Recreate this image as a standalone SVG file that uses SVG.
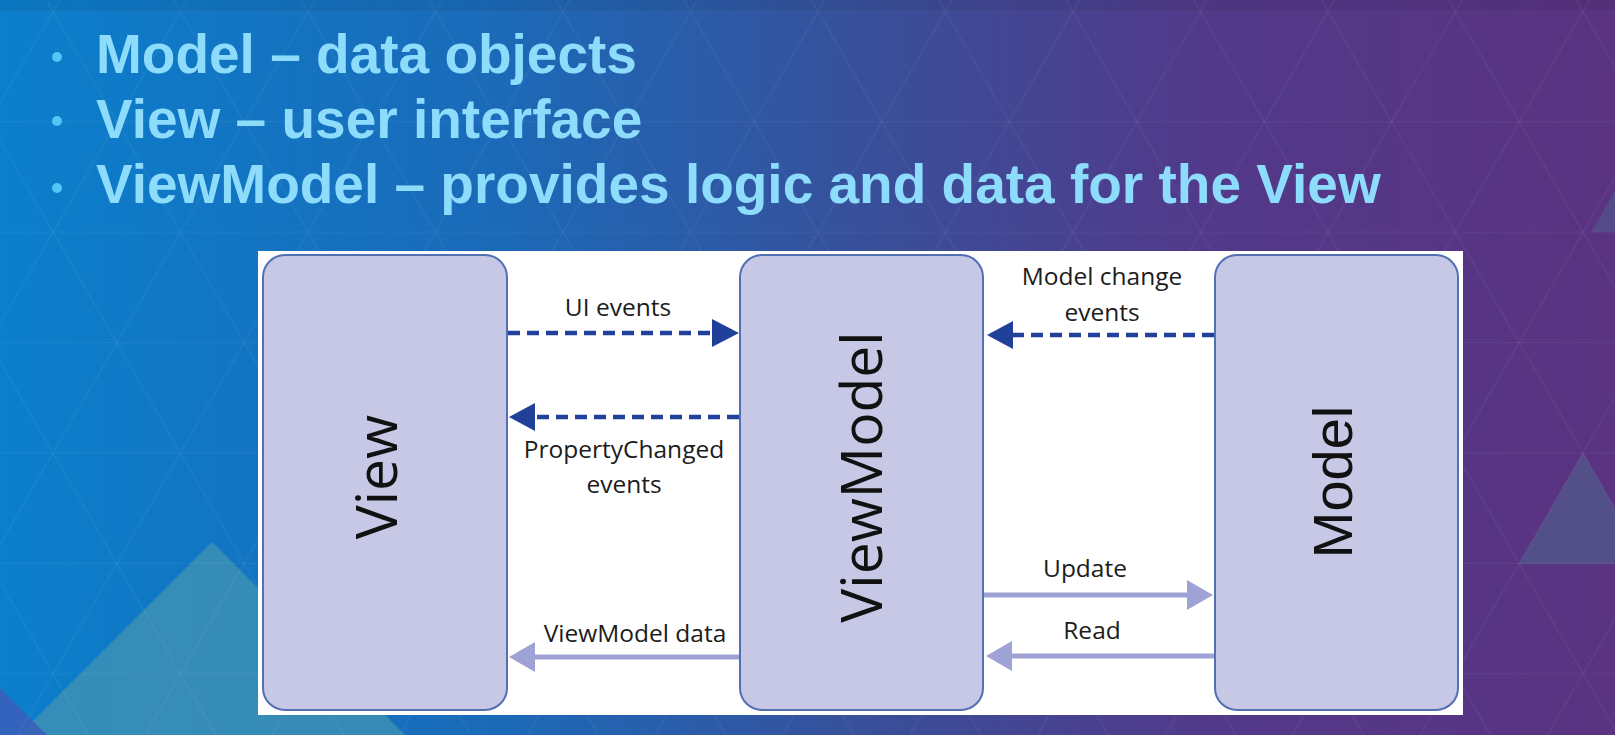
<svg xmlns="http://www.w3.org/2000/svg" width="1615" height="735" viewBox="0 0 1615 735">
  <defs>
    <linearGradient id="bg" x1="0" y1="0" x2="1" y2="0">
      <stop offset="0" stop-color="#0b7fcc"/>
      <stop offset="0.3" stop-color="#1a6bb9"/>
      <stop offset="0.55" stop-color="#3a4e99"/>
      <stop offset="0.75" stop-color="#52398a"/>
      <stop offset="1" stop-color="#5a3381"/>
    </linearGradient>
    <pattern id="lattice" patternUnits="userSpaceOnUse" width="127.5" height="220.8" patternTransform="translate(53,11.4)">
      <g stroke="#ffffff" stroke-opacity="0.055" stroke-width="1.2" fill="none">
        <line x1="0" y1="0" x2="127.5" y2="0"/>
        <line x1="0" y1="110.4" x2="127.5" y2="110.4"/>
        <line x1="0" y1="220.8" x2="127.5" y2="220.8"/>
        <line x1="0" y1="0" x2="127.5" y2="220.8"/>
        <line x1="127.5" y1="0" x2="0" y2="220.8"/>
      </g>
    </pattern>
    <style>
      .title { font-family: "Liberation Sans", Arial, sans-serif; font-weight: bold; font-size: 55px; fill: #8ddcfc; }
      .bullet { fill: #52c6f6; }
      .box { fill: #c7c7e6; stroke: #5270b2; stroke-width: 2; }
      .big { font-family: "Open Sans", "Noto Sans", sans-serif; font-size: 57px; fill: #111111; text-anchor: middle; }
      .bigA { font-family: "Liberation Sans", Arial, sans-serif; font-size: 56px; fill: #111111; text-anchor: middle; }
      .lbl { font-family: "Open Sans", "Noto Sans", sans-serif; font-size: 24.5px; fill: #1c1c1c; text-anchor: middle; }
      .dash { stroke: #21409a; stroke-width: 4.5; stroke-dasharray: 12 7; fill: none; }
      .solid { stroke: #9fa2d4; stroke-width: 5; fill: none; }
      .hd { fill: #21409a; }
      .hl { fill: #9fa2d4; }
    </style>
  </defs>

  <!-- background -->
  <rect x="0" y="0" width="1615" height="735" fill="url(#bg)"/>
  <rect x="0" y="0" width="1615" height="12" fill="#000000" fill-opacity="0.06"/>
  <polygon points="212,542 19,735 405,735" fill="#3f92b4" fill-opacity="0.8"/>
  <polygon points="0,688 47,735 0,735" fill="#3d5cb8" fill-opacity="0.8"/>
  <polygon points="1583,453 1519,564 1647,564" fill="#535089"/>
  <polygon points="1591,232 1655,122 1719,232" fill="#535089" fill-opacity="0.8"/>
  <rect x="0" y="0" width="1615" height="735" fill="url(#lattice)"/>

  <!-- title bullets -->
  <g id="bullets">
    <circle class="bullet" cx="57" cy="57" r="5"/>
    <text class="title" x="96" y="73">Model – data objects</text>
    <circle class="bullet" cx="57" cy="121" r="5"/>
    <text class="title" x="96" y="138">View – user interface</text>
    <circle class="bullet" cx="57" cy="188" r="5"/>
    <text class="title" x="96" y="203">ViewModel – provides logic and data for the View</text>
  </g>

  <!-- diagram panel -->
  <rect x="258" y="251" width="1205" height="464" fill="#ffffff"/>

  <g id="node-view">
    <rect class="box" x="263" y="255" width="244" height="455" rx="22" ry="22"/>
    <text class="big" transform="translate(397,477) rotate(-90)">View</text>
  </g>
  <g id="node-viewmodel">
    <rect class="box" x="740" y="255" width="243" height="455" rx="22" ry="22"/>
    <text class="big" transform="translate(882,477) rotate(-90)">ViewModel</text>
  </g>
  <g id="node-model">
    <rect class="box" x="1215" y="255" width="243" height="455" rx="22" ry="22"/>
    <text class="bigA" transform="translate(1352,482) rotate(-90)">Model</text>
  </g>

  <g id="connectors">
    <line class="dash" x1="508" y1="333" x2="714" y2="333"/>
    <path class="hd" d="M712,319 L739,333 L712,347 Z"/>
    <line class="dash" x1="739" y1="417" x2="533" y2="417"/>
    <path class="hd" d="M535,403 L509,417 L535,431 Z"/>
    <line class="dash" x1="1214" y1="335" x2="1011" y2="335"/>
    <path class="hd" d="M1013,321 L987,335 L1013,349 Z"/>

    <line class="solid" x1="739" y1="657" x2="533" y2="657"/>
    <path class="hl" d="M535,642 L509,657 L535,672 Z"/>
    <line class="solid" x1="984" y1="595" x2="1189" y2="595"/>
    <path class="hl" d="M1187,580 L1213,595 L1187,610 Z"/>
    <line class="solid" x1="1214" y1="656" x2="1010" y2="656"/>
    <path class="hl" d="M1012,641 L986,656 L1012,671 Z"/>

    <text class="lbl" x="618" y="316">UI events</text>
    <text class="lbl" x="624" y="458">PropertyChanged</text>
    <text class="lbl" x="624" y="493">events</text>
    <text class="lbl" x="635" y="642">ViewModel data</text>
    <text class="lbl" x="1102" y="285">Model change</text>
    <text class="lbl" x="1102" y="321">events</text>
    <text class="lbl" x="1085" y="577">Update</text>
    <text class="lbl" x="1092" y="639">Read</text>
  </g>
</svg>
